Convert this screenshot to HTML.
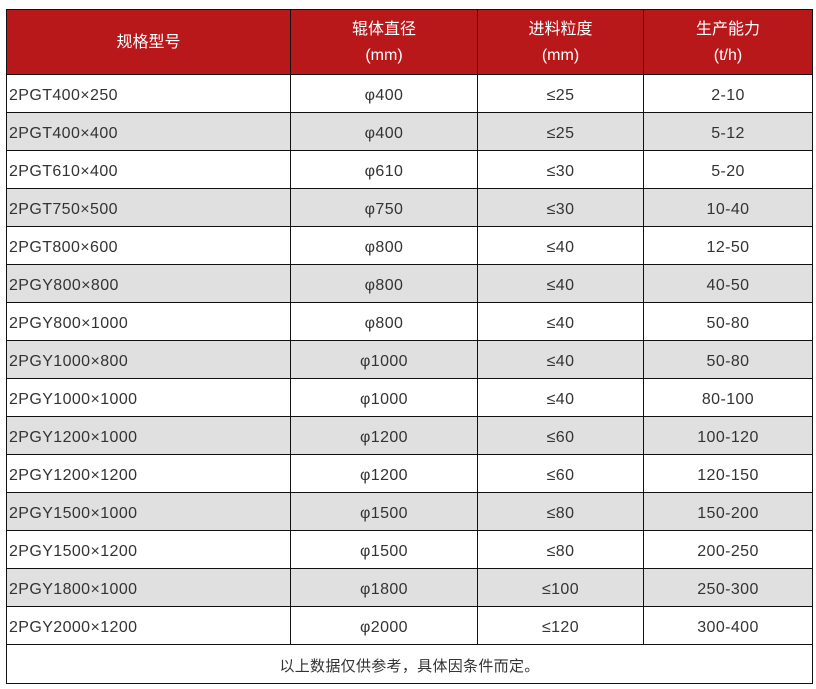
<!DOCTYPE html><html><head><meta charset="utf-8"><style>
body{margin:0;background:#fff;width:816px;height:689px;position:relative;font-family:"Liberation Sans","Noto Sans CJK SC",sans-serif;}
table{position:absolute;left:6px;top:9px;border-collapse:collapse;width:806px;table-layout:fixed;}
td{border:1px solid #111;height:38px;padding:5px 0 0 0;box-sizing:border-box;text-align:center;font-size:16px;letter-spacing:0.4px;color:#333;line-height:18px;}
td.l{text-align:left;padding-left:2px;}
tr.h td{background:#b9181b;color:#fff;height:65px;font-size:16px;line-height:26px;padding-top:1px;letter-spacing:0;}
tr.g td{background:#e0e0e0;}
tr.f td{height:39px;font-size:15px;letter-spacing:0.3px;}
</style></head><body>
<table>
<colgroup><col style="width:284px"><col style="width:187px"><col style="width:166px"><col style="width:169px"></colgroup>
<tr class="h"><td>规格型号</td><td>辊体直径<br>(mm)</td><td>进料粒度<br>(mm)</td><td>生产能力<br>(t/h)</td></tr>
<tr><td class="l">2PGT400×250</td><td>φ400</td><td>≤25</td><td>2-10</td></tr>
<tr class="g"><td class="l">2PGT400×400</td><td>φ400</td><td>≤25</td><td>5-12</td></tr>
<tr><td class="l">2PGT610×400</td><td>φ610</td><td>≤30</td><td>5-20</td></tr>
<tr class="g"><td class="l">2PGT750×500</td><td>φ750</td><td>≤30</td><td>10-40</td></tr>
<tr><td class="l">2PGT800×600</td><td>φ800</td><td>≤40</td><td>12-50</td></tr>
<tr class="g"><td class="l">2PGY800×800</td><td>φ800</td><td>≤40</td><td>40-50</td></tr>
<tr><td class="l">2PGY800×1000</td><td>φ800</td><td>≤40</td><td>50-80</td></tr>
<tr class="g"><td class="l">2PGY1000×800</td><td>φ1000</td><td>≤40</td><td>50-80</td></tr>
<tr><td class="l">2PGY1000×1000</td><td>φ1000</td><td>≤40</td><td>80-100</td></tr>
<tr class="g"><td class="l">2PGY1200×1000</td><td>φ1200</td><td>≤60</td><td>100-120</td></tr>
<tr><td class="l">2PGY1200×1200</td><td>φ1200</td><td>≤60</td><td>120-150</td></tr>
<tr class="g"><td class="l">2PGY1500×1000</td><td>φ1500</td><td>≤80</td><td>150-200</td></tr>
<tr><td class="l">2PGY1500×1200</td><td>φ1500</td><td>≤80</td><td>200-250</td></tr>
<tr class="g"><td class="l">2PGY1800×1000</td><td>φ1800</td><td>≤100</td><td>250-300</td></tr>
<tr><td class="l">2PGY2000×1200</td><td>φ2000</td><td>≤120</td><td>300-400</td></tr>
<tr class="f"><td colspan="4">以上数据仅供参考，具体因条件而定。</td></tr>
</table>
</body></html>
